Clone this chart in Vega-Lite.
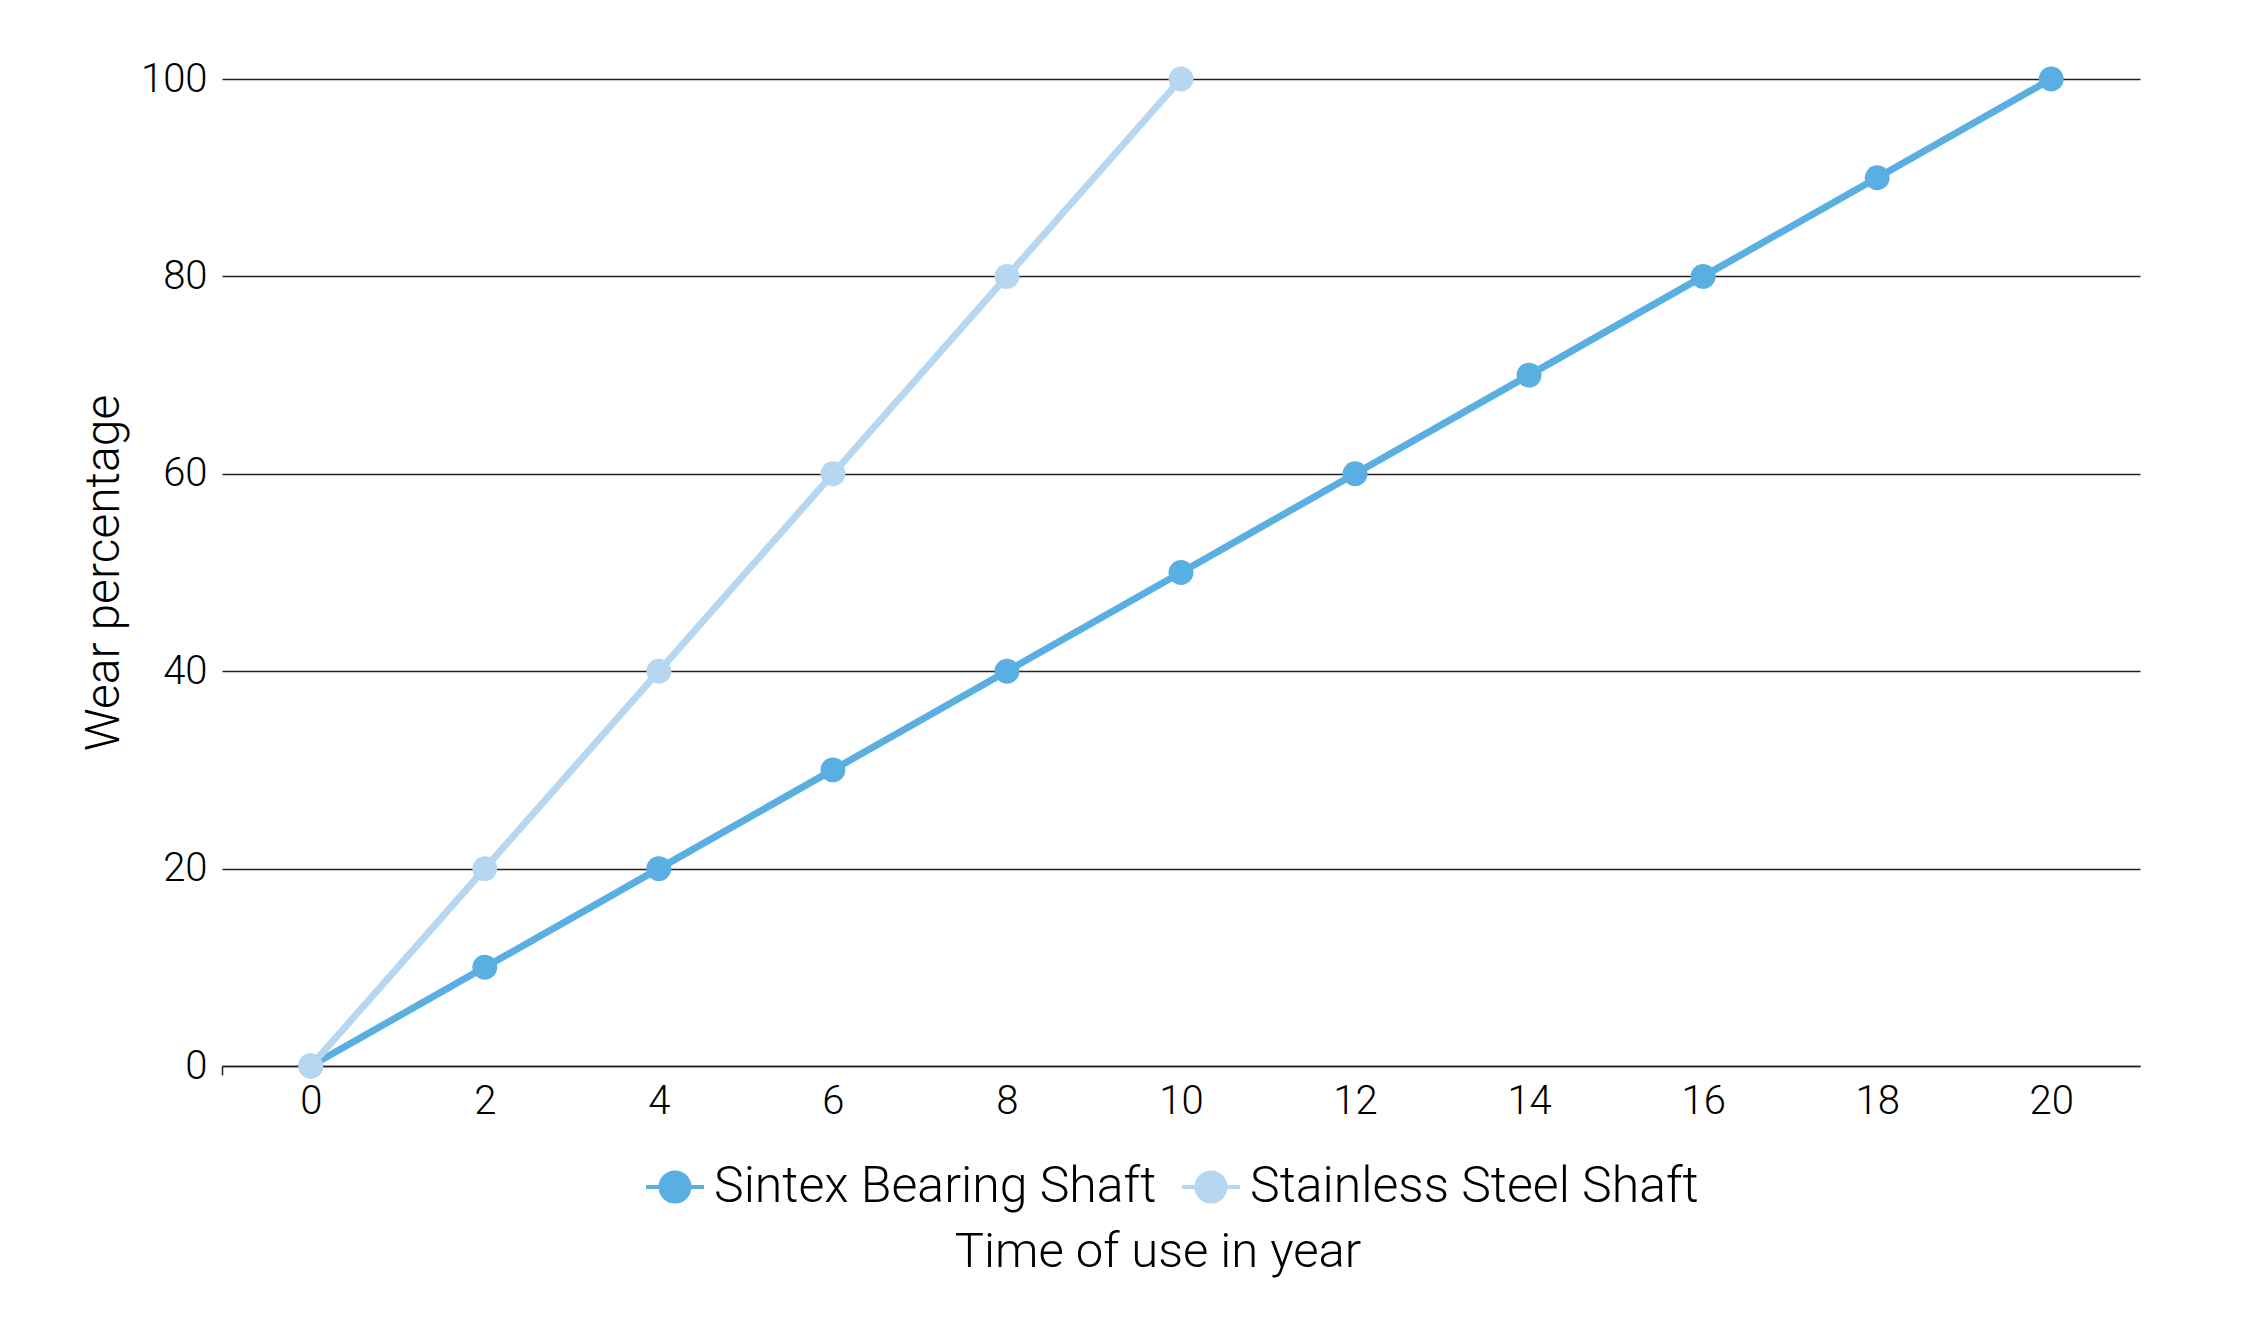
{
  "$schema": "https://vega.github.io/schema/vega-lite/v6.json",
  "width": 1918,
  "height": 987,
  "autosize": {"type": "none"},
  "padding": {"left": 222, "top": 79, "right": 107, "bottom": 269},
  "background": "white",
  "config": {
    "view": {"stroke": null},
    "font": "Roboto"
  },
  "title": {
    "text": "Time of use in year",
    "orient": "bottom",
    "anchor": "middle",
    "fontSize": 49,
    "fontWeight": 300,
    "color": "black",
    "offset": 16,
    "dx": -23
  },
  "data": {
    "values": [
      {"year": 0, "wear": 0, "shaft": "Sintex Bearing Shaft"},
      {"year": 2, "wear": 10, "shaft": "Sintex Bearing Shaft"},
      {"year": 4, "wear": 20, "shaft": "Sintex Bearing Shaft"},
      {"year": 6, "wear": 30, "shaft": "Sintex Bearing Shaft"},
      {"year": 8, "wear": 40, "shaft": "Sintex Bearing Shaft"},
      {"year": 10, "wear": 50, "shaft": "Sintex Bearing Shaft"},
      {"year": 12, "wear": 60, "shaft": "Sintex Bearing Shaft"},
      {"year": 14, "wear": 70, "shaft": "Sintex Bearing Shaft"},
      {"year": 16, "wear": 80, "shaft": "Sintex Bearing Shaft"},
      {"year": 18, "wear": 90, "shaft": "Sintex Bearing Shaft"},
      {"year": 20, "wear": 100, "shaft": "Sintex Bearing Shaft"},
      {"year": 0, "wear": 0, "shaft": "Stainless Steel Shaft"},
      {"year": 2, "wear": 20, "shaft": "Stainless Steel Shaft"},
      {"year": 4, "wear": 40, "shaft": "Stainless Steel Shaft"},
      {"year": 6, "wear": 60, "shaft": "Stainless Steel Shaft"},
      {"year": 8, "wear": 80, "shaft": "Stainless Steel Shaft"},
      {"year": 10, "wear": 100, "shaft": "Stainless Steel Shaft"}
    ]
  },
  "encoding": {
    "x": {
      "field": "year",
      "type": "quantitative",
      "scale": {"domain": [-1.02, 21.02], "nice": false, "zero": false},
      "axis": {
        "title": null,
        "values": [-1.02, 0, 2, 4, 6, 8, 10, 12, 14, 16, 18, 20],
        "labelExpr": "datum.value < 0 ? '' : datum.label",
        "labelFontSize": 40,
        "labelFontWeight": 300,
        "labelColor": "black",
        "labelPadding": 6,
        "grid": false,
        "domainColor": "#222222",
        "domainWidth": 1.5,
        "tickColor": "#222222",
        "tickWidth": 1.5,
        "tickSize": 9,
        "tickOpacity": {"expr": "datum.value < 0 ? 1 : 0"}
      }
    },
    "y": {
      "field": "wear",
      "type": "quantitative",
      "scale": {"domain": [0, 100], "nice": false},
      "axis": {
        "title": "Wear percentage",
        "titleFontSize": 48,
        "titleFontWeight": 300,
        "titleColor": "black",
        "titlePadding": 12,
        "values": [0, 20, 40, 60, 80, 100],
        "labelFontSize": 40,
        "labelFontWeight": 300,
        "labelColor": "black",
        "labelPadding": 15,
        "domain": false,
        "ticks": false,
        "grid": true,
        "gridColor": "#222222",
        "gridWidth": 1.5
      }
    },
    "color": {
      "field": "shaft",
      "type": "nominal",
      "scale": {
        "domain": ["Sintex Bearing Shaft", "Stainless Steel Shaft"],
        "range": ["#59afe1", "#b7d7f1"]
      },
      "legend": {
        "title": null,
        "orient": "none",
        "legendX": 422,
        "legendY": 1077,
        "direction": "horizontal",
        "labelFontSize": 50,
        "labelFontWeight": 300,
        "labelColor": "black",
        "labelLimit": 0,
        "labelOffset": 8,
        "columnPadding": 17,
        "symbolType": "M-1,0H1M0.5,0A0.5,0.5 0 1,1 -0.5,0A0.5,0.5 0 1,1 0.5,0Z",
        "symbolSize": 3364,
        "symbolStrokeWidth": 4,
        "encode": {
          "symbols": {
            "update": {
              "fill": {"signal": "scale('color', datum.value)"},
              "stroke": {"signal": "scale('color', datum.value)"},
              "fillOpacity": {"value": 1},
              "strokeOpacity": {"value": 1}
            }
          }
        }
      }
    }
  },
  "layer": [
    {
      "mark": {"type": "line", "strokeWidth": 7, "clip": false}
    },
    {
      "mark": {"type": "point", "filled": true, "size": 620, "opacity": 1, "clip": false}
    }
  ]
}
